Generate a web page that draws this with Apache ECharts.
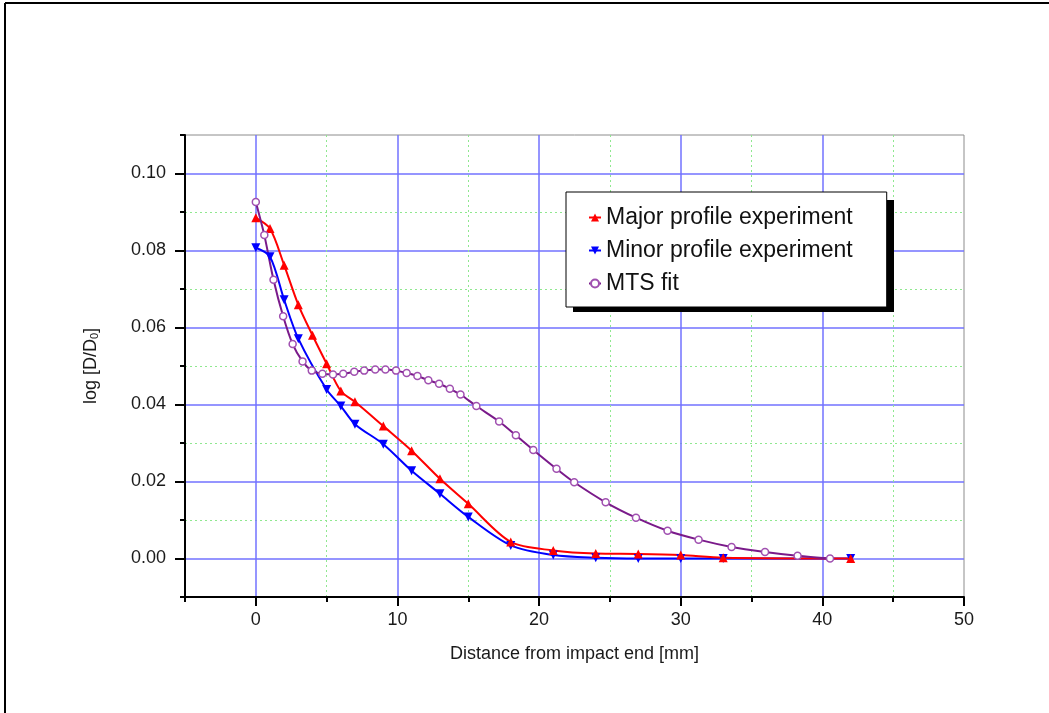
<!DOCTYPE html>
<html><head><meta charset="utf-8">
<script src="https://cdn.jsdelivr.net/npm/echarts@6/dist/echarts.min.js"></script>
<style>html,body{margin:0;padding:0;background:#fff}#c{width:1049px;height:713px}</style>
</head><body><div id="c"></div>
<script>
const seriesNames = ['Major profile experiment', 'Minor profile experiment', 'MTS fit'];
const majorX = [0, 1, 2, 3, 4, 5, 6, 7, 9, 11, 13, 15, 18, 21, 24, 27, 30, 33, 42];
const majorY = [0.0885, 0.0857, 0.0762, 0.0659, 0.0580, 0.0506, 0.0435, 0.0407, 0.0344, 0.0280, 0.0207, 0.0142, 0.0043, 0.0021, 0.0013, 0.0012, 0.0009, 0.0002, 0.0];
const minorX = [0, 1, 2, 3, 5, 6, 7, 9, 11, 13, 15, 18, 21, 24, 27, 30, 33, 42];
const minorY = [0.0807, 0.0784, 0.0672, 0.0571, 0.0439, 0.0396, 0.0349, 0.0297, 0.0228, 0.0168, 0.0108, 0.0034, 0.0009, 0.0002, 0.0, 0.0, 0.0, 0.0];
const fitX = [0, 0.6, 1.25, 1.93, 2.6, 3.3, 3.95, 4.7, 5.45, 6.17, 6.95, 7.65, 8.43, 9.15, 9.9, 10.65, 11.41, 12.18, 12.94, 13.7, 14.45, 15.57, 17.18, 18.36, 19.59, 21.23, 22.48, 24.7, 26.84, 29.07, 31.26, 33.59, 35.95, 38.25, 40.54];
const fitY = [0.0926, 0.0840, 0.0724, 0.0629, 0.0557, 0.0512, 0.0488, 0.0480, 0.0478, 0.0480, 0.0485, 0.0488, 0.0491, 0.0491, 0.0488, 0.0482, 0.0474, 0.0463, 0.0454, 0.0441, 0.0426, 0.0396, 0.0356, 0.0320, 0.0282, 0.0233, 0.0198, 0.0146, 0.0106, 0.0072, 0.0049, 0.0030, 0.0017, 0.0007, 0.0];
const xAxisName = 'Distance from impact end [mm]';
const yAxisName = '{a|log [D/D}{b|0}{a|]}';

const pairs = (xs, ys) => xs.map((x, i) => [x, ys[i]]);
const FONT = '"Liberation Sans", Arial, sans-serif';
const TXT = '#1a1a1a';
const chart = echarts.init(document.getElementById('c'), null, {renderer: 'canvas'});

const minorSplit = {show: true, showMinLine: false, showMaxLine: false, lineStyle: {color: '#8fe88f', type: [2, 3], width: 1}};
const majorSplit = {show: true, showMinLine: false, showMaxLine: false, lineStyle: {color: '#7272ff', width: 1.5}};
const tickStyle = {color: '#000', width: 2};

chart.setOption({
  animation: false,
  backgroundColor: '#fff',
  textStyle: {fontFamily: FONT},
  grid: {left: 185, top: 135, right: 85, bottom: 116, show: true, borderColor: '#8c8c8c', borderWidth: 1, backgroundColor: 'transparent'},
  legend: {
    data: seriesNames, orient: 'vertical', left: 566, top: 192, z: 5,
    padding: [14, 34, 12, 22], itemGap: 10, itemWidth: 12, itemHeight: 10,
    backgroundColor: '#fff', borderColor: '#000', borderWidth: 1,
    textStyle: {fontSize: 23, lineHeight: 22, color: '#111', fontFamily: FONT}
  },
  graphic: [
    {type: 'line', shape: {x1: 5, y1: 3, x2: 1049, y2: 3}, style: {stroke: '#000', lineWidth: 2}},
    {type: 'line', shape: {x1: 5, y1: 3, x2: 5, y2: 713}, style: {stroke: '#000', lineWidth: 2}},
    {type: 'rect', z: 4, shape: {x: 573, y: 200, width: 321, height: 112}, style: {fill: '#000'}}
  ],
  xAxis: [
    {type: 'value', min: -5, max: 50, interval: 10, position: 'bottom',
     axisLine: {show: false, onZero: false}, axisLabel: {show: false},
     axisTick: {show: true, length: 5, lineStyle: tickStyle}, splitLine: minorSplit},
    {type: 'value', min: -5, max: 50, splitNumber: 5, position: 'bottom',
     axisLine: {show: true, onZero: false, lineStyle: {color: '#000', width: 2}},
     axisTick: {show: true, length: 9, lineStyle: tickStyle},
     axisLabel: {showMinLabel: false, margin: 14, fontSize: 18, color: TXT, fontFamily: FONT},
     splitLine: majorSplit,
     name: xAxisName, nameLocation: 'middle', nameGap: 48,
     nameTextStyle: {fontSize: 18, color: TXT, fontFamily: FONT}}
  ],
  yAxis: [
    {type: 'value', min: -0.01, max: 0.11, interval: 0.02, position: 'left',
     axisLine: {show: false, onZero: false}, axisLabel: {show: false},
     axisTick: {show: true, length: 5, lineStyle: tickStyle}, splitLine: minorSplit},
    {type: 'value', min: -0.01, max: 0.11, splitNumber: 5, position: 'left',
     axisLine: {show: true, onZero: false, lineStyle: {color: '#000', width: 2}},
     axisTick: {show: true, length: 10, lineStyle: tickStyle},
     axisLabel: {showMinLabel: false, showMaxLabel: false, margin: 19, fontSize: 18, color: TXT, fontFamily: FONT,
                 formatter: v => v.toFixed(2)},
     splitLine: majorSplit,
     name: yAxisName, nameLocation: 'middle', nameGap: 85,
     nameTextStyle: {rich: {
       a: {fontSize: 18, lineHeight: 20, color: TXT, fontFamily: FONT, verticalAlign: 'bottom'},
       b: {fontSize: 11, lineHeight: 11, color: TXT, fontFamily: FONT, verticalAlign: 'bottom'}
     }}}
  ],
  series: [
    {name: seriesNames[1], type: 'line', xAxisIndex: 1, yAxisIndex: 1, data: pairs(minorX, minorY),
     smooth: 0.3, symbol: 'triangle', symbolRotate: 180, symbolSize: 9, showAllSymbol: true,
     lineStyle: {color: '#0000ff', width: 2}, itemStyle: {color: '#0000ff'}},
    {name: seriesNames[0], type: 'line', xAxisIndex: 1, yAxisIndex: 1, data: pairs(majorX, majorY),
     smooth: 0.3, symbol: 'triangle', symbolSize: 9, showAllSymbol: true,
     lineStyle: {color: '#ff0000', width: 2}, itemStyle: {color: '#ff0000'}},
    {name: seriesNames[2], type: 'line', xAxisIndex: 1, yAxisIndex: 1, data: pairs(fitX, fitY),
     smooth: 0.3, symbol: 'circle', symbolSize: 7, showAllSymbol: true,
     lineStyle: {color: '#7a1a8a', width: 2},
     itemStyle: {color: '#fff', borderColor: '#a050b0', borderWidth: 1.5}}
  ]
});
</script>
</body></html>
